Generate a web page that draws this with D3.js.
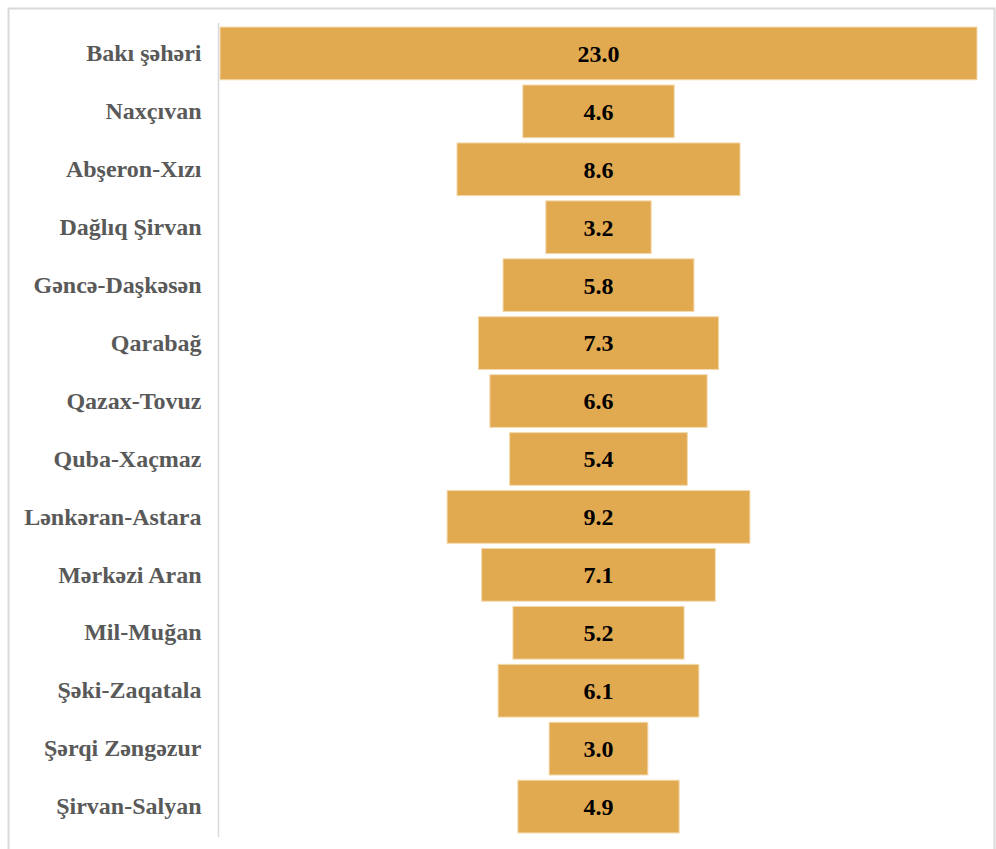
<!DOCTYPE html>
<html>
<head>
<meta charset="utf-8">
<script src="https://cdn.jsdelivr.net/npm/d3@7"></script>
<style>
  html, body { margin: 0; padding: 0; background: #ffffff; }
  svg { display: block; }
</style>
</head>
<body>
<svg id="chart" width="996" height="849"></svg>
<script>
// Regions (economic districts) and their share values, top to bottom
const regions = [
  "Bakı şəhəri", "Naxçıvan", "Abşeron-Xızı", "Dağlıq Şirvan", "Gəncə-Daşkəsən",
  "Qarabağ", "Qazax-Tovuz", "Quba-Xaçmaz", "Lənkəran-Astara", "Mərkəzi Aran",
  "Mil-Muğan", "Şəki-Zaqatala", "Şərqi Zəngəzur", "Şirvan-Salyan"
];
const values = [23.0, 4.6, 8.6, 3.2, 5.8, 7.3, 6.6, 5.4, 9.2, 7.1, 5.2, 6.1, 3.0, 4.9];

const svg = d3.select("#chart");

// Outer frame
svg.append("rect")
  .attr("x", 8.5).attr("y", 8.5)
  .attr("width", 986).attr("height", 850)
  .attr("fill", "#ffffff")
  .attr("stroke", "#d9d9d9")
  .attr("stroke-width", 2);

const plot = { left: 220, right: 977, top: 23, bottom: 837 };
const maxV = d3.max(values);

// Bars are centered: the widest bar spans the whole plot width
const x = d3.scaleLinear()
  .domain([-maxV / 2, maxV / 2])
  .range([plot.left, plot.right]);

const y = d3.scaleBand()
  .domain(regions)
  .range([plot.top, plot.bottom])
  .paddingInner(0.09)
  .paddingOuter(0.07);

const data = regions.map((r, i) => ({ region: r, value: values[i] }));

const fontFamily = "'Liberation Serif', 'Times New Roman', serif";

// Bars
svg.append("g")
  .selectAll("rect")
  .data(data)
  .join("rect")
  .attr("x", d => x(-d.value / 2))
  .attr("y", d => y(d.region))
  .attr("width", d => x(d.value / 2) - x(-d.value / 2))
  .attr("height", y.bandwidth())
  .attr("fill", "#e2aa50")
  .attr("stroke", "#f3d9ad")
  .attr("stroke-width", 1);

// Value labels
svg.append("g")
  .selectAll("text")
  .data(data)
  .join("text")
  .attr("x", d => x(0))
  .attr("y", d => y(d.region) + y.bandwidth() / 2)
  .attr("dy", "0.35em")
  .attr("text-anchor", "middle")
  .attr("font-family", fontFamily)
  .attr("font-weight", "bold")
  .attr("font-size", 24)
  .attr("fill", "#000000")
  .text(d => d.value.toFixed(1));

// Category axis on the left
const axis = d3.axisLeft(y).tickSize(0).tickPadding(17);
const gAxis = svg.append("g")
  .attr("transform", `translate(${plot.left - 1.5},0)`)
  .call(axis);
gAxis.select(".domain")
  .attr("d", `M0,${plot.top}V${plot.bottom}`)
  .attr("stroke", "#d9d9d9")
  .attr("stroke-width", 1.5);
gAxis.selectAll("text")
  .attr("font-family", fontFamily)
  .attr("font-weight", "bold")
  .attr("font-size", 24)
  .attr("fill", "#595959");
</script>
</body>
</html>
